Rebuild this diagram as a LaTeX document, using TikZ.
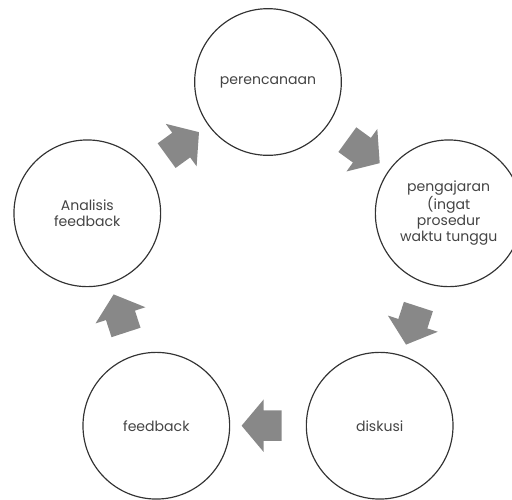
\documentclass[tikz,border=0pt]{standalone}
\usepackage{fontspec}
\setmainfont{Poppins}
\usepackage{tikz}
\usetikzlibrary{shapes.arrows, calc}
\definecolor{garis}{HTML}{333333}
\definecolor{abupanah}{HTML}{888888}
\definecolor{teks}{HTML}{444444}
\tikzset{
  lingkaran/.style={circle, draw=garis, line width=1pt, minimum size=4.4cm,
    inner sep=0pt, text=teks, font=\fontsize{12}{13.6}\selectfont, align=center},
  panah/.style={single arrow, fill=abupanah, draw=none, minimum height=1.2cm,
    inner xsep=0pt, inner ysep=0.45cm, single arrow head extend=0.33cm,
    single arrow tip angle=100},
}

\begin{document}
\begin{tikzpicture}
    \useasboundingbox (-8.04,-6.81) rectangle (7.32,8.16);

    \node[lingkaran] (rencana) at (90:5.7) {perencanaan};
    \node[lingkaran] (ajar) at (18:5.7) {pengajaran\\(ingat\\prosedur\\waktu tunggu};
    \node[lingkaran] (diskusi) at (-54:5.7) {diskusi};
    \node[lingkaran] (umpan) at (234:5.7) {feedback};
    \node[lingkaran] (analisis) at (162:5.7) {Analisis\\feedback};

    \node[panah, rotate=-36] (p1) at ($(rencana)!0.5!(ajar)$) {};
    \node[panah, rotate=-108] (p2) at ($(ajar)!0.5!(diskusi)$) {};
    \node[panah, rotate=180] (p3) at ($(diskusi)!0.5!(umpan)$) {};
    \node[panah, rotate=108] (p4) at ($(umpan)!0.5!(analisis)$) {};
    \node[panah, rotate=36] (p5) at ($(analisis)!0.5!(rencana)$) {};
  \end{tikzpicture}
\end{document}
